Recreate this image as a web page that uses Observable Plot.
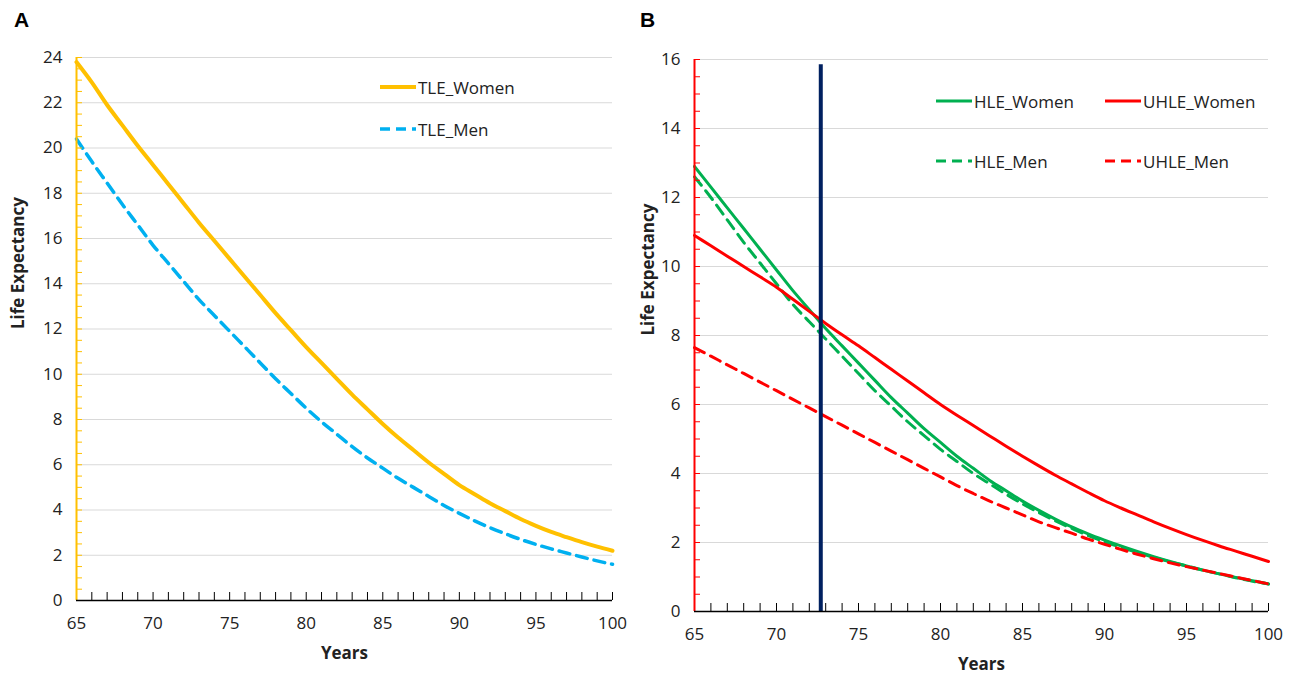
<!DOCTYPE html>
<html>
<head>
<meta charset="utf-8">
<script src="https://cdn.jsdelivr.net/npm/d3@7"></script>
<script src="https://cdn.jsdelivr.net/npm/@observablehq/plot@0.6"></script>
<style>
  body { margin: 0; background: white; font-family: 'Open Sans', sans-serif; }
  #wrap { position: relative; width: 1309px; height: 677px; }
  .panel { position: absolute; top: 0; }
  .panel svg text { font-size: 17px; }
  .panel svg text.title { font-size: 16px; }
  .lbl { position: absolute; font-weight: bold; font-size: 21px; font-family: 'Liberation Sans', sans-serif; }
  .leg { position: absolute; font-size: 17px; display: flex; align-items: center; color: #222; }
  .leg svg { margin-right: 2px; }
</style>
</head>
<body>
<div id="wrap">
  <div class="panel" id="a" style="left:0"></div>
  <div class="panel" id="b" style="left:650px"></div>
  <div class="lbl" style="left:14px;top:8px">A</div>
  <div class="lbl" style="left:640px;top:8px">B</div>
</div>
<script>
const years = d3.range(65, 101)

const tleWomen = [23.8,22.9,21.9,21.0,20.1,19.25,18.4,17.55,16.7,15.9,15.1,14.3,13.5,12.7,11.95,11.2,10.5,9.8,9.1,8.45,7.8,7.2,6.65,6.1,5.6,5.1,4.7,4.3,3.95,3.6,3.3,3.03,2.8,2.58,2.38,2.2]
const tleMen = [20.4,19.4,18.45,17.5,16.6,15.7,14.9,14.1,13.3,12.6,11.9,11.2,10.5,9.8,9.15,8.5,7.9,7.35,6.8,6.3,5.85,5.4,5.0,4.6,4.2,3.85,3.52,3.22,2.95,2.7,2.48,2.28,2.1,1.92,1.75,1.6]

const hleWomen = [12.9,12.3,11.7,11.1,10.5,9.9,9.3,8.75,8.2,7.7,7.2,6.7,6.2,5.75,5.3,4.9,4.5,4.15,3.8,3.5,3.2,2.93,2.68,2.45,2.25,2.07,1.9,1.74,1.59,1.45,1.32,1.2,1.09,0.99,0.89,0.8]
const hleMen = [12.6,12.0,11.35,10.7,10.1,9.5,8.9,8.4,7.9,7.4,6.9,6.4,5.95,5.5,5.1,4.7,4.35,4.0,3.7,3.4,3.12,2.87,2.63,2.41,2.2,2.02,1.86,1.71,1.57,1.44,1.32,1.2,1.09,0.98,0.88,0.8]
const uhleWomen = [10.9,10.6,10.3,10.0,9.7,9.4,9.05,8.7,8.35,8.02,7.7,7.36,7.02,6.68,6.34,6.0,5.69,5.39,5.09,4.79,4.5,4.22,3.95,3.7,3.45,3.21,3.0,2.8,2.6,2.41,2.23,2.06,1.9,1.75,1.6,1.45]
const uhleMen = [7.65,7.4,7.15,6.9,6.65,6.4,6.15,5.9,5.65,5.4,5.15,4.9,4.65,4.4,4.15,3.9,3.65,3.42,3.2,3.0,2.8,2.6,2.43,2.27,2.1,1.95,1.8,1.66,1.53,1.41,1.3,1.2,1.1,1.0,0.9,0.8]

const cutoffYear = 72.7

const YELLOW = '#ffc000', BLUE = '#00b0f0', GREEN = '#00b050', RED = '#ff0000', NAVY = '#002060'

const series = (vals) => years.map((x, i) => ({x, y: vals[i]}))

function panel({yMax, axisColor, ml, mr, mt, mb, lines, extra = [], labelX}) {
  return Plot.plot({
    width: 650,
    height: 677,
    marginLeft: ml, marginRight: mr, marginTop: mt, marginBottom: mb,
    x: {domain: [65, 100], label: null},
    y: {domain: [0, yMax], label: null},
    style: {fontFamily: 'Open Sans, sans-serif', color: '#222', overflow: 'visible'},
    marks: [
      Plot.gridY(d3.range(2, yMax + 1, 2), {stroke: '#d9d9d9', strokeOpacity: 1}),
      ...lines.map(l => Plot.line(series(l.vals), {x: 'x', y: 'y', curve: 'monotone-x', stroke: l.color, strokeWidth: l.w || 3, strokeDasharray: l.dash ? '11,7' : null})),
      ...extra,
      Plot.axisX({ticks: years, tickSize: -8, text: null, label: null, stroke: '#000'}),
      Plot.axisX({ticks: d3.range(65, 101, 5), tickSize: 0, tickPadding: 16, label: null}),
      Plot.axisY({ticks: d3.range(0, yMax + 0.1, 0.5), tickSize: -6, text: null, label: null, stroke: axisColor}),
      Plot.axisY({ticks: d3.range(0, yMax + 1, 2), tickSize: 0, tickPadding: 14, label: null}),
      Plot.ruleX([65], {stroke: axisColor, strokeWidth: 2}),
      Plot.ruleY([0], {stroke: '#000', strokeWidth: 1.5}),
      Plot.text(['Years'], {frameAnchor: 'bottom', dy: 58, fontWeight: 'bold', className: 'title'}),
      Plot.text(['Life Expectancy'], {frameAnchor: 'left', dx: labelX, rotate: -90, fontWeight: 'bold', className: 'title'})
    ]
  })
}

document.getElementById('a').append(panel({
  yMax: 24, axisColor: YELLOW, ml: 76, mr: 38, mt: 57, mb: 77, labelX: -58,
  lines: [
    {vals: tleWomen, color: YELLOW, w: 4},
    {vals: tleMen, color: BLUE, dash: true, w: 3.5}
  ]
}))

document.getElementById('b').append(panel({
  yMax: 16, axisColor: RED, ml: 44, mr: 32, mt: 59, mb: 66, labelX: -46,
  lines: [
    {vals: hleWomen, color: GREEN},
    {vals: hleMen, color: GREEN, dash: true},
    {vals: uhleWomen, color: RED},
    {vals: uhleMen, color: RED, dash: true}
  ],
  extra: [Plot.ruleX([cutoffYear], {y1: 0, y2: 15.85, stroke: NAVY, strokeWidth: 4})]
}))

// legends
const legends = [
  {name: 'TLE_Women', color: YELLOW, dash: false, w: 4, left: 380, top: 87},
  {name: 'TLE_Men', color: BLUE, dash: true, w: 3.5, left: 380, top: 129},
  {name: 'HLE_Women', color: GREEN, dash: false, w: 3, left: 936, top: 101},
  {name: 'HLE_Men', color: GREEN, dash: true, w: 3, left: 936, top: 161},
  {name: 'UHLE_Women', color: RED, dash: false, w: 3, left: 1105, top: 101},
  {name: 'UHLE_Men', color: RED, dash: true, w: 3, left: 1105, top: 161}
]
const wrap = document.getElementById('wrap')
legends.forEach(l => {
  const d = document.createElement('div')
  d.className = 'leg'
  d.style.left = l.left + 'px'
  d.style.top = (l.top - 12) + 'px'
  d.innerHTML = `<svg width="36" height="24"><line x1="0" x2="36" y1="12" y2="12" stroke="${l.color}" stroke-width="${l.w}" ${l.dash ? 'stroke-dasharray="10,6"' : ''}/></svg>${l.name}`
  wrap.append(d)
})
</script>
</body>
</html>
